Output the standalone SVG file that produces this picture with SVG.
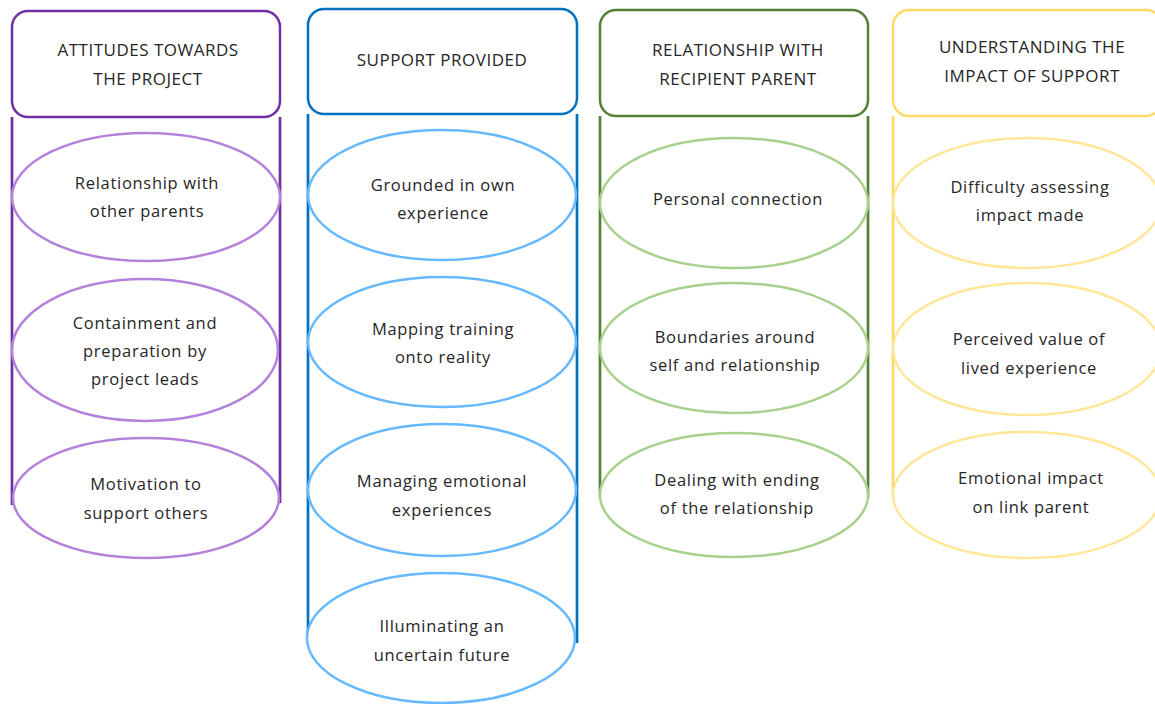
<svg xmlns="http://www.w3.org/2000/svg" width="1155" height="704" viewBox="0 0 1155 704">
<style>
text{font-family:"Open Sans","Liberation Sans",Arial,sans-serif;font-size:16.5px;letter-spacing:0.7px;fill:#262626;text-anchor:middle}
.h{font-size:17px;letter-spacing:0.5px}
.el{fill:#fff;stroke-width:2.5}
.hd{fill:#fff;stroke-width:2.5}
.ln{stroke-width:2.7;fill:none}
</style>
<rect width="1155" height="704" fill="#fff"/>
<g id="connectors">
<path class="ln" stroke="#7030A0" d="M12,117V505M280,117V503"/>
<path class="ln" stroke="#0070C0" d="M308,114V643M577,114V643"/>
<path class="ln" stroke="#548235" d="M600,116V498M868,116V498"/>
<path class="ln" stroke="#FFD966" d="M893,116V498"/>
</g>
<g id="col1">
<rect class="hd" stroke="#7030A0" x="12" y="11" width="268" height="106" rx="16"/>
<text class="h" x="148" y="56">ATTITUDES TOWARDS</text>
<text class="h" x="148" y="85">THE PROJECT</text>
</g>
<g id="n1a"><ellipse class="el" stroke="#B482DA" cx="146" cy="197" rx="134" ry="64"/><text x="147" y="189">Relationship with</text><text x="147" y="217">other parents</text></g>
<g id="n1b"><ellipse class="el" stroke="#B482DA" cx="145" cy="350" rx="133" ry="71"/><text x="145" y="329">Containment and</text><text x="145" y="357">preparation by</text><text x="145" y="385">project leads</text></g>
<g id="n1c"><ellipse class="el" stroke="#B482DA" cx="146" cy="498" rx="133" ry="60"/><text x="146" y="490">Motivation to</text><text x="146" y="519">support others</text></g>
<g id="col2">
<rect class="hd" stroke="#0070C0" x="308" y="9" width="269" height="105" rx="16"/>
<text class="h" x="442" y="66">SUPPORT PROVIDED</text>
</g>
<g id="n2a"><ellipse class="el" stroke="#66B8FF" cx="442" cy="195" rx="134" ry="65"/><text x="443" y="191">Grounded in own</text><text x="443" y="219">experience</text></g>
<g id="n2b"><ellipse class="el" stroke="#66B8FF" cx="442" cy="342" rx="134" ry="65"/><text x="443" y="335">Mapping training</text><text x="443" y="363">onto reality</text></g>
<g id="n2c"><ellipse class="el" stroke="#66B8FF" cx="442" cy="490" rx="134" ry="66"/><text x="442" y="487">Managing emotional</text><text x="442" y="516">experiences</text></g>
<g id="n2d"><ellipse class="el" stroke="#66B8FF" cx="441" cy="638" rx="134" ry="65"/><text x="442" y="632">Illuminating an</text><text x="442" y="661">uncertain future</text></g>
<g id="col3">
<rect class="hd" stroke="#548235" x="600" y="10" width="268" height="106" rx="16"/>
<text class="h" x="738" y="56">RELATIONSHIP WITH</text>
<text class="h" x="738" y="85">RECIPIENT PARENT</text>
</g>
<g id="n3a"><ellipse class="el" stroke="#A9D18E" cx="734" cy="203" rx="134" ry="65"/><text x="738" y="205">Personal connection</text></g>
<g id="n3b"><ellipse class="el" stroke="#A9D18E" cx="734" cy="348" rx="134" ry="65"/><text x="735" y="343">Boundaries around</text><text x="735" y="371">self and relationship</text></g>
<g id="n3c"><ellipse class="el" stroke="#A9D18E" cx="734" cy="495" rx="134" ry="62"/><text x="737" y="486">Dealing with ending</text><text x="737" y="514">of the relationship</text></g>
<g id="col4">
<rect class="hd" stroke="#FFD966" x="893" y="10" width="269" height="106" rx="16"/>
<text class="h" x="1032" y="53">UNDERSTANDING THE</text>
<text class="h" x="1032" y="82">IMPACT OF SUPPORT</text>
</g>
<g id="n4a"><ellipse class="el" stroke="#FFE699" cx="1027" cy="203" rx="134" ry="65"/><text x="1030" y="193">Difficulty assessing</text><text x="1030" y="221">impact made</text></g>
<g id="n4b"><ellipse class="el" stroke="#FFE699" cx="1027" cy="349" rx="134" ry="66"/><text x="1029" y="345">Perceived value of</text><text x="1029" y="374">lived experience</text></g>
<g id="n4c"><ellipse class="el" stroke="#FFE699" cx="1027" cy="495" rx="134" ry="63"/><text x="1031" y="484">Emotional impact</text><text x="1031" y="513">on link parent</text></g>
</svg>
